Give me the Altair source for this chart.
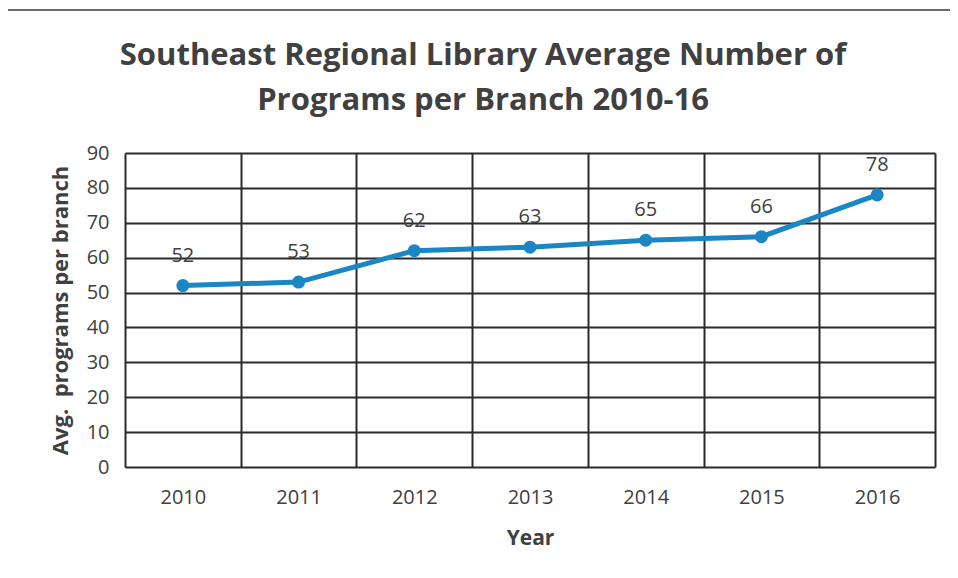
import altair as alt
import pandas as pd

years = ["2010", "2011", "2012", "2013", "2014", "2015", "2016"]
programs = [52, 53, 62, 63, 65, 66, 78]

df = pd.DataFrame({"Year": years, "Programs": programs})

FONT = "Open Sans"
TXT = "#404040"
GRID = "#2b2b2b"
BLUE = "#1a86c4"

x = alt.X("Year:N", sort=years, title="Year",
          scale=alt.Scale(paddingInner=0, paddingOuter=0),
          axis=alt.Axis(labelAngle=0, grid=True, tickBand="extent", ticks=False,
                        domain=False, gridColor=GRID, gridWidth=2, gridOpacity=1,
                        labelFont=FONT, labelFontSize=20, labelColor=TXT, labelPadding=20,
                        titleFont=FONT, titleFontSize=21, titleFontWeight="bold",
                        titleColor=TXT, titlePadding=20))
y = alt.Y("Programs:Q", title="Avg.\u00a0\u00a0programs per branch",
          scale=alt.Scale(domain=[0, 90], nice=False),
          axis=alt.Axis(values=list(range(0, 91, 10)), grid=True, ticks=False, domain=False,
                        gridColor=GRID, gridWidth=2, gridOpacity=1,
                        labelFont=FONT, labelFontSize=20, labelColor=TXT, labelPadding=16,
                        titleFont=FONT, titleFontSize=22, titleFontWeight="bold",
                        titleColor=TXT, titlePadding=14))

base = alt.Chart(df).encode(x=x, y=y)

line = base.mark_line(color=BLUE, strokeWidth=5)
pts = base.mark_point(filled=True, color=BLUE, size=170, opacity=1)
labels = base.mark_text(dy=-30, font=FONT, fontSize=20, color=TXT).encode(text="Programs:Q")

frame_top = alt.Chart(df).mark_rule(color="#6a6a6a", strokeWidth=2).encode(
    x=alt.value(-121), x2=alt.value(833), y=alt.value(-143))
frame_left = alt.Chart(df).mark_rule(color="#6a6a6a", strokeWidth=2).encode(
    x=alt.value(-119), y=alt.value(-143), y2=alt.value(425))

chart = (line + pts + labels + frame_top + frame_left).properties(
    width=810, height=314,
    autosize=alt.AutoSizeParams(type="none"),
    padding={"left": 117, "top": 145, "right": 15, "bottom": 103},
    title=alt.TitleParams(
        text=["Southeast Regional Library Average Number of", "Programs per Branch 2010-16"],
        font=FONT, fontSize=31, fontWeight="bold", color=TXT,
        anchor="middle", frame="group", dx=-47, dy=138, offset=30, lineHeight=45),
).configure_view(stroke=GRID, strokeWidth=2).configure(background="white")

chart.save("out.html", embed_options={"renderer": "svg", "actions": False})
